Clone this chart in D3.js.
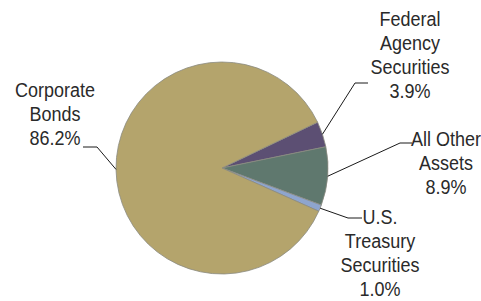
<!DOCTYPE html>
<html>
<head>
<meta charset="utf-8">
<script src="https://cdn.jsdelivr.net/npm/d3@7"></script>
<style>
  body { margin: 0; background: #fff; }
  svg { display: block; }
</style>
</head>
<body>
<script>
// slice data, in drawing order (clockwise, starting at the Federal Agency slice)
var categories = ["Federal Agency Securities", "All Other Assets", "U.S. Treasury Securities", "Corporate Bonds"];
var values = [3.9, 8.9, 1.0, 86.2];
var labelLines = [
  ["Federal", "Agency", "Securities", "3.9%"],
  ["All Other", "Assets", "8.9%"],
  ["U.S.", "Treasury", "Securities", "1.0%"],
  ["Corporate", "Bonds", "86.2%"]
];
var colors = ["#5c4f73", "#5f786e", "#8ea5ce", "#b4a46c"];

var width = 481, height = 301;
var cx = 222, cy = 168, radius = 106;

// label layout: text centre x, first baseline y, elbow of the leader line
var labelPos = [
  {x: 410, y: 26, ex: 368, ey: 83, hx: 355},
  {x: 446, y: 146, ex: 412, ey: 143, hx: 400},
  {x: 380, y: 224, ex: 362, ey: 218, hx: 348},
  {x: 55, y: 97, ex: 83, ey: 147, hx: 97}
];
var lineHeight = 24;
var stretch = 1.1; // the reference text is a little taller than plain Arial

var svg = d3.select("body").append("svg")
  .attr("width", width)
  .attr("height", height);

var pie = d3.pie()
  .sort(null)
  .startAngle(64.4 * Math.PI / 180)
  .endAngle(64.4 * Math.PI / 180 + 2 * Math.PI);

var arc = d3.arc().innerRadius(0).outerRadius(radius);

var arcs = pie(values);

var g = svg.append("g").attr("transform", "translate(" + cx + "," + cy + ")");

g.selectAll("path")
  .data(arcs)
  .enter()
  .append("path")
  .attr("d", arc)
  .attr("fill", function(d, i) { return colors[i]; })
  .attr("stroke", "#8a8a80")
  .attr("stroke-width", 0.8);

// leader lines
arcs.forEach(function(d, i) {
  var mid = (d.startAngle + d.endAngle) / 2;
  var px = cx + Math.sin(mid) * radius;
  var py = cy - Math.cos(mid) * radius;
  var p = labelPos[i];
  svg.append("polyline")
    .attr("points", [[px, py], [p.hx, p.ey], [p.ex, p.ey]].map(function(q) { return q.join(","); }).join(" "))
    .attr("fill", "none")
    .attr("stroke", "#1a1a1a")
    .attr("stroke-width", 1);
});

// labels
labelLines.forEach(function(lines, i) {
  var p = labelPos[i];
  lines.forEach(function(s, k) {
    svg.append("text")
      .attr("transform", "translate(" + p.x + "," + (p.y + k * lineHeight) + ") scale(1," + stretch + ")")
      .attr("font-family", "Liberation Sans, Arial, sans-serif")
      .attr("font-size", "18px")
      .attr("fill", "#2a2a2a")
      .attr("text-anchor", "middle")
      .text(s);
  });
});
</script>
</body>
</html>
